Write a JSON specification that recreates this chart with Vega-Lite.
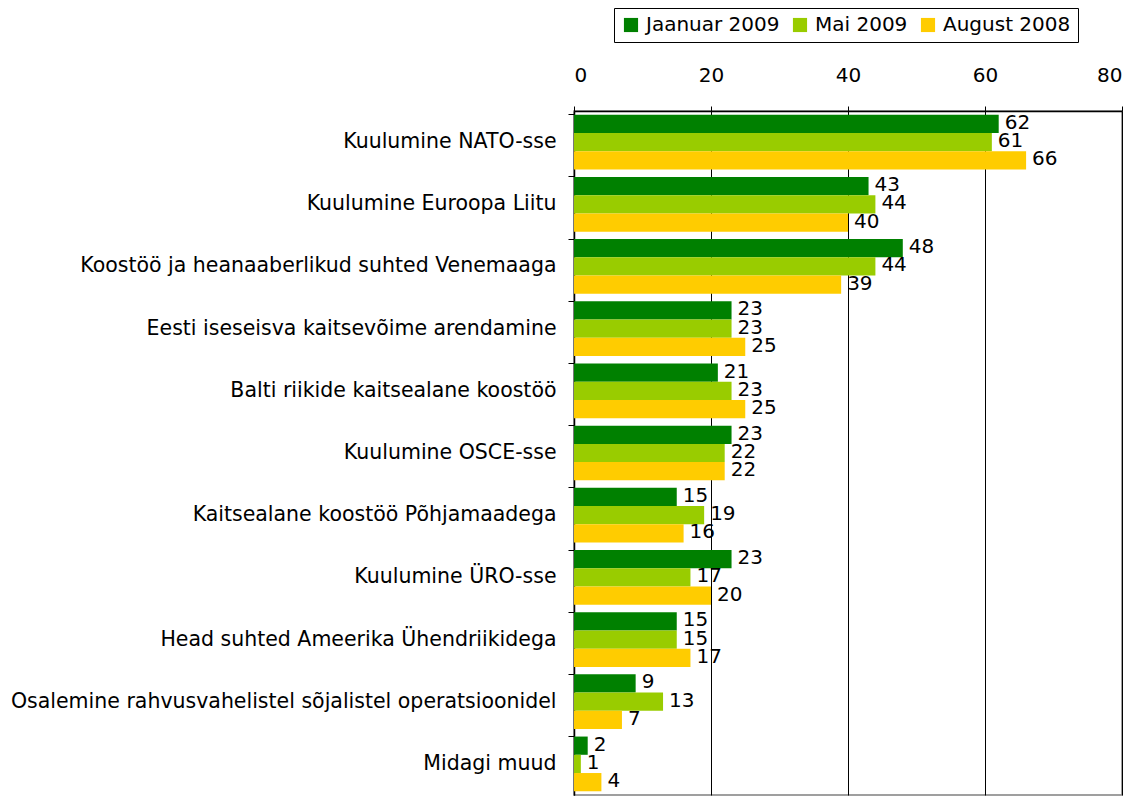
{
  "$schema": "https://vega.github.io/schema/vega-lite/v6.json",
  "width": 548,
  "height": 684,
  "autosize": "none",
  "padding": {"left": 574, "top": 111, "right": 20, "bottom": 1},
  "background": "white",
  "config": {
    "font": "DejaVu Sans",
    "view": {"stroke": "#808080", "strokeWidth": 1.5}
  },
  "data": {
    "values": [
      {"cat": "Kuulumine NATO-sse", "period": "Jaanuar 2009", "value": 62},
      {"cat": "Kuulumine NATO-sse", "period": "Mai 2009", "value": 61},
      {"cat": "Kuulumine NATO-sse", "period": "August 2008", "value": 66},
      {"cat": "Kuulumine Euroopa Liitu", "period": "Jaanuar 2009", "value": 43},
      {"cat": "Kuulumine Euroopa Liitu", "period": "Mai 2009", "value": 44},
      {"cat": "Kuulumine Euroopa Liitu", "period": "August 2008", "value": 40},
      {"cat": "Koostöö ja heanaaberlikud suhted Venemaaga", "period": "Jaanuar 2009", "value": 48},
      {"cat": "Koostöö ja heanaaberlikud suhted Venemaaga", "period": "Mai 2009", "value": 44},
      {"cat": "Koostöö ja heanaaberlikud suhted Venemaaga", "period": "August 2008", "value": 39},
      {"cat": "Eesti iseseisva kaitsevõime arendamine", "period": "Jaanuar 2009", "value": 23},
      {"cat": "Eesti iseseisva kaitsevõime arendamine", "period": "Mai 2009", "value": 23},
      {"cat": "Eesti iseseisva kaitsevõime arendamine", "period": "August 2008", "value": 25},
      {"cat": "Balti riikide kaitsealane koostöö", "period": "Jaanuar 2009", "value": 21},
      {"cat": "Balti riikide kaitsealane koostöö", "period": "Mai 2009", "value": 23},
      {"cat": "Balti riikide kaitsealane koostöö", "period": "August 2008", "value": 25},
      {"cat": "Kuulumine OSCE-sse", "period": "Jaanuar 2009", "value": 23},
      {"cat": "Kuulumine OSCE-sse", "period": "Mai 2009", "value": 22},
      {"cat": "Kuulumine OSCE-sse", "period": "August 2008", "value": 22},
      {"cat": "Kaitsealane koostöö Põhjamaadega", "period": "Jaanuar 2009", "value": 15},
      {"cat": "Kaitsealane koostöö Põhjamaadega", "period": "Mai 2009", "value": 19},
      {"cat": "Kaitsealane koostöö Põhjamaadega", "period": "August 2008", "value": 16},
      {"cat": "Kuulumine ÜRO-sse", "period": "Jaanuar 2009", "value": 23},
      {"cat": "Kuulumine ÜRO-sse", "period": "Mai 2009", "value": 17},
      {"cat": "Kuulumine ÜRO-sse", "period": "August 2008", "value": 20},
      {"cat": "Head suhted Ameerika Ühendriikidega", "period": "Jaanuar 2009", "value": 15},
      {"cat": "Head suhted Ameerika Ühendriikidega", "period": "Mai 2009", "value": 15},
      {"cat": "Head suhted Ameerika Ühendriikidega", "period": "August 2008", "value": 17},
      {"cat": "Osalemine rahvusvahelistel sõjalistel operatsioonidel", "period": "Jaanuar 2009", "value": 9},
      {"cat": "Osalemine rahvusvahelistel sõjalistel operatsioonidel", "period": "Mai 2009", "value": 13},
      {"cat": "Osalemine rahvusvahelistel sõjalistel operatsioonidel", "period": "August 2008", "value": 7},
      {"cat": "Midagi muud", "period": "Jaanuar 2009", "value": 2},
      {"cat": "Midagi muud", "period": "Mai 2009", "value": 1},
      {"cat": "Midagi muud", "period": "August 2008", "value": 4}
    ]
  },
  "encoding": {
    "y": {
      "field": "cat",
      "type": "nominal",
      "sort": null,
      "scale": {"paddingInner": 0.12, "paddingOuter": 0.06},
      "axis": {
        "title": null,
        "bandPosition": 0,
        "domainColor": "black",
        "domainWidth": 1.5,
        "tickColor": "black",
        "tickSize": 6,
        "labelFontSize": 20.5,
        "labelColor": "black",
        "labelPadding": 12,
        "labelLimit": 600
      }
    },
    "yOffset": {
      "field": "period",
      "type": "nominal",
      "scale": {"domain": ["Jaanuar 2009", "Mai 2009", "August 2008"], "paddingInner": 0, "paddingOuter": 0}
    },
    "x": {
      "field": "value",
      "type": "quantitative",
      "scale": {"domain": [0, 80], "nice": false},
      "axis": {
        "orient": "top",
        "title": null,
        "values": [0, 20, 40, 60, 80],
        "grid": true,
        "gridColor": "black",
        "gridWidth": 1,
        "domainColor": "black",
        "domainWidth": 1.5,
        "tickColor": "black",
        "tickSize": 5,
        "labelFontSize": 20,
        "labelColor": "black",
        "labelPadding": 21
      }
    }
  },
  "layer": [
    {
      "mark": {"type": "bar"},
      "encoding": {
        "color": {
          "field": "period",
          "type": "nominal",
          "scale": {
            "domain": ["Jaanuar 2009", "Mai 2009", "August 2008"],
            "range": ["#008000", "#99CC00", "#FFCC00"]
          },
          "legend": {
            "title": null,
            "orient": "none",
            "legendX": 40,
            "legendY": -103,
            "direction": "horizontal",
            "symbolType": "square",
            "symbolSize": 200,
            "symbolStrokeWidth": 0,
            "labelFontSize": 20,
            "labelColor": "black",
            "labelOffset": 5,
            "columnPadding": 10,
            "padding": 7,
            "strokeColor": "black",
            "fillColor": "white"
          }
        }
      }
    },
    {
      "mark": {"type": "text", "align": "left", "dx": 6, "dy": -1, "fontSize": 20, "color": "black"},
      "encoding": {"text": {"field": "value", "type": "quantitative"}}
    }
  ]
}
